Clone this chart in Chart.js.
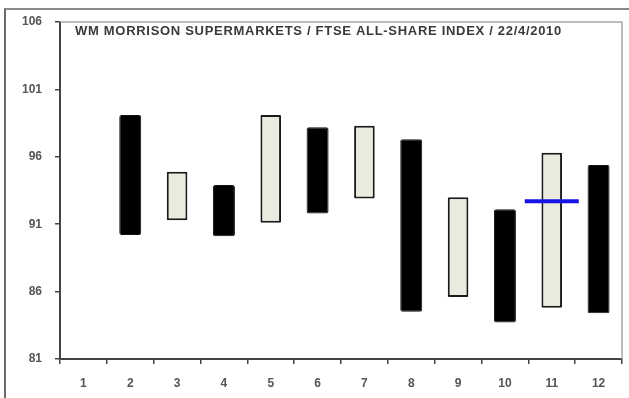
<!DOCTYPE html>
<html>
<head>
<meta charset="utf-8">
<script src="https://cdn.jsdelivr.net/npm/chart.js@4"></script>
<style>
  html, body { margin: 0; padding: 0; background: #fff; }
  #wrap { position: relative; width: 629px; height: 398px; }
  #frame { position: absolute; left: 4px; top: 8px; width: 640px; height: 400px;
           border-top: 2px solid #8a8a8a; border-left: 2px solid #6a6a6a; }
  canvas { position: absolute; left: 0; top: 0; }
</style>
</head>
<body>
<div id="wrap">
  <div id="frame"></div>
  <canvas id="chart1" width="629" height="398"></canvas>
</div>
<script>
const days = ['1', '2', '3', '4', '5', '6', '7', '8', '9', '10', '11', '12']
const yTicks = [81, 86, 91, 96, 101, 106]
const titleText = 'WM MORRISON SUPERMARKETS / FTSE ALL-SHARE INDEX / 22/4/2010'

// [low, high] of each black bar
const blackBars = [null, [90.2, 99.1], null, [90.1, 93.9], null, [91.8, 98.2], null,
  [84.5, 97.3], null, [83.7, 92.1], null, [84.4, 95.4]]
// [low, high] of each light bar
const lightBars = [null, null, [91.3, 94.9], null, [91.1, 99.1], null, [92.9, 98.3],
  null, [85.6, 93.0], null, [84.8, 96.3], null]
// blue marker
const markerLine = [null, null, null, null, null, null, null, null, null, null, 92.7, null]

const chart1El = document.getElementById('chart1')

const boxAndTitle = {
  id: 'boxAndTitle',
  afterDraw(chart) {
    const {ctx, chartArea} = chart
    ctx.save()
    ctx.strokeStyle = '#a8a8a8'
    ctx.lineWidth = 1.5
    ctx.beginPath()
    ctx.moveTo(chartArea.left, chartArea.top)
    ctx.lineTo(chartArea.right, chartArea.top)
    ctx.lineTo(chartArea.right, chartArea.bottom)
    ctx.stroke()
    ctx.fillStyle = '#3a3a3a'
    ctx.font = 'bold 13px "Liberation Sans", Arial, sans-serif'
    ctx.letterSpacing = '0.7px'
    ctx.textBaseline = 'middle'
    ctx.fillText(titleText, chartArea.left + 15, chartArea.top + 9)
    ctx.restore()
  }
}

new Chart(chart1El, {
  type: 'bar',
  data: {
    labels: days,
    datasets: [{
      data: blackBars,
      order: 2,
      backgroundColor: '#000',
      borderColor: '#111',
      borderWidth: 1,
      borderRadius: 2,
      borderSkipped: false,
      barPercentage: 0.47,
      categoryPercentage: 1,
      grouped: false
    }, {
      data: lightBars,
      order: 2,
      backgroundColor: '#ebeadf',
      borderColor: '#1a1a1a',
      borderWidth: 2,
      borderRadius: 1,
      borderSkipped: false,
      barPercentage: 0.44,
      categoryPercentage: 1,
      grouped: false
    }, {
      type: 'line',
      data: markerLine,
      order: 0,
      showLine: false,
      pointStyle: 'line',
      pointRadius: 27,
      pointHoverRadius: 27,
      pointBorderWidth: 4,
      borderColor: '#1414e6',
      backgroundColor: '#1414e6'
    }]
  },
  options: {
    responsive: false,
    animation: false,
    layout: { autoPadding: false, padding: { top: 22, right: 7, left: 0, bottom: 0 } },
    plugins: { legend: { display: false }, tooltip: { enabled: false } },
    scales: {
      x: {
        offset: true,
        grid: { display: true, drawOnChartArea: false, offset: true, tickLength: 5, color: '#444', lineWidth: 1.5 },
        border: { display: true, color: '#444', width: 2 },
        ticks: { color: '#555', font: { family: 'Liberation Sans', size: 12, weight: 'bold' }, padding: 12 },
        afterFit(scale) { scale.height = 39 }
      },
      y: {
        min: yTicks[0],
        max: yTicks[yTicks.length - 1],
        afterBuildTicks(scale) { scale.ticks = yTicks.map(v => ({ value: v })) },
        grid: { display: true, drawOnChartArea: false, tickLength: 5, color: '#444', lineWidth: 1.5 },
        border: { display: true, color: '#444', width: 2 },
        ticks: { color: '#555', font: { family: 'Liberation Sans', size: 12, weight: 'bold' }, padding: 13 },
        afterFit(scale) { scale.width = 60 }
      }
    }
  },
  plugins: [boxAndTitle]
})
</script>
</body>
</html>
